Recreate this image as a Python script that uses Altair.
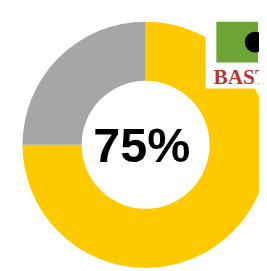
import altair as alt
import pandas as pd

categories = ["Yes", "No"]
values = [75, 25]
colors = ["#FDCA00", "#A6A6A6"]
center_label = "75%"
logo_text = "BAST"

df = pd.DataFrame({"category": categories, "value": values, "order": [0, 1]})

W, H = 259, 263
cx, cy = 142, 137

donut = alt.Chart(df).mark_arc(innerRadius=66, outerRadius=127).encode(
    theta=alt.Theta("value:Q", stack=True),
    order=alt.Order("order:Q"),
    color=alt.Color("category:N", scale=alt.Scale(domain=categories, range=colors), legend=None),
    x=alt.value(cx),
    y=alt.value(cy),
)

label = alt.Chart(pd.DataFrame({"t": [center_label]})).mark_text(
    font="Liberation Sans", fontWeight="bold", fontSize=50, color="black",
    align="center", baseline="middle",
).encode(text="t:N", x=alt.value(cx - 4), y=alt.value(cy + 3))

one = pd.DataFrame({"k": [0]})
logo_bg = alt.Chart(one).mark_rect(color="white").encode(
    x=alt.value(204), x2=alt.value(259), y=alt.value(7), y2=alt.value(79))
logo_green = alt.Chart(one).mark_rect(color="#6CA535").encode(
    x=alt.value(215), x2=alt.value(258), y=alt.value(10), y2=alt.value(52))
logo_dot = alt.Chart(one).mark_circle(color="black", opacity=1, size=460).encode(
    x=alt.value(255), y=alt.value(31))
logo_txt = alt.Chart(pd.DataFrame({"t": [logo_text]})).mark_text(
    font="Liberation Serif", fontWeight="bold", fontSize=22, color="#B5352F",
    align="left", baseline="alphabetic",
).encode(text="t:N", x=alt.value(212), y=alt.value(74))

chart = alt.layer(donut, label, logo_bg, logo_green, logo_dot, logo_txt).properties(
    width=W, height=H, autosize="none", padding=0, background="white"
).configure_view(stroke=None)

chart.save("out.html", embed_options={"renderer": "svg", "actions": False})
